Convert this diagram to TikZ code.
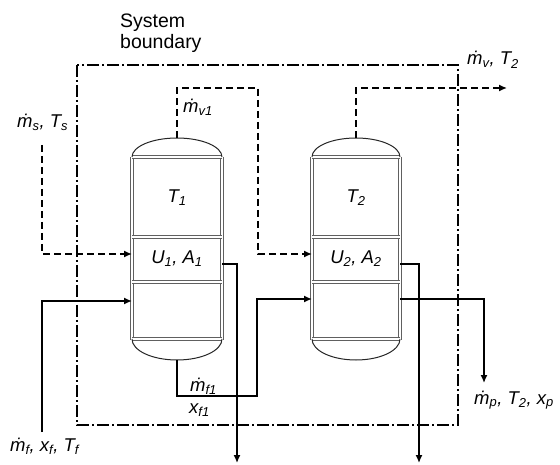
\documentclass[tikz,border=0pt]{standalone}
\usepackage{fontspec}
\setmainfont{Liberation Sans}
\usetikzlibrary{arrows.meta}
\tikzset{
  bnd/.style={line width=1.4pt, dash pattern=on 12pt off 3pt on 2pt off 3pt},
  vap/.style={line width=1.4pt, dash pattern=on 7pt off 4pt},
  liq/.style={line width=1.4pt},
  tip/.style={-{Latex[length=8pt,width=7pt]}},
  wall/.style={draw=gray!75!black, double=white, double distance=1.6pt, line width=0.8pt},
  dome/.style={draw=black!85, line width=1pt},
  lbl/.style={font=\fontsize{18.5}{21}\selectfont\itshape, inner sep=0pt},
  ttl/.style={font=\fontsize{19.5}{22}\selectfont, inner sep=0pt, align=left},
}
\newcommand{\vessel}[2]{% #1 = left x, #2 = right x
  \pgfmathsetmacro{\cx}{(#1+#2)/2}
  \pgfmathsetmacro{\rx}{(#2-#1)/2}
  \draw[wall] (#1,157) -- (#1,340);
  \draw[wall] (#2,157) -- (#2,340);
  \foreach \yy in {157,237,282,339} {\draw[wall] (#1,\yy) -- (#2,\yy);}
  \draw[dome] (#1,157) .. controls (#1,146.5) and (\cx-0.552*\rx,138) .. (\cx,138)
     .. controls (\cx+0.552*\rx,138) and (#2,146.5) .. (#2,157);
  \draw[dome] (#1,339) .. controls (#1,350.6) and (\cx-0.552*\rx,360) .. (\cx,360)
     .. controls (\cx+0.552*\rx,360) and (#2,350.6) .. (#2,339);
}
\begin{document}
\begin{tikzpicture}[x=1pt,y=-1pt]
\useasboundingbox (0,0) rectangle (560,465);
\fill[white] (0,0) rectangle (560,465);

% system boundary
\draw[bnd] (77,65) rectangle (458,425);
\node[ttl, anchor=base west] (sb1) at (120,28) {System};
\node[ttl, anchor=base west] (sb2) at (120,49) {boundary};

% vessels
\vessel{132}{222}
\vessel{312}{400}
\node[lbl] (t1) at (177,198) {T\textsubscript{1}};
\node[lbl] (ua1) at (177,259) {U\textsubscript{1}, A\textsubscript{1}};
\node[lbl] (t2) at (356,198) {T\textsubscript{2}};
\node[lbl] (ua2) at (356,259) {U\textsubscript{2}, A\textsubscript{2}};

% connection points
\coordinate (v1top) at (177,138);
\coordinate (v1bot) at (177,360);
\coordinate (v2top) at (356,138);
\coordinate (v1in) at (132,254);
\coordinate (v1feed) at (132,301);
\coordinate (v1cond) at (222,264);
\coordinate (v2in) at (312,254);
\coordinate (v2feed) at (312,299);
\coordinate (v2cond) at (400,264);
\coordinate (v2out) at (400,299);
\coordinate (steam) at (42,145);
\coordinate (feed) at (42,432);
\coordinate (vout) at (507,88);
\coordinate (c1out) at (237,463);
\coordinate (c2out) at (419,463);
\coordinate (pout) at (484,383);

% steam
\draw[vap, tip] (steam) |- (v1in);
% vapour 1 to vessel 2
\draw[vap, tip] (v1top) -- (177,88) -- (258,88) |- (v2in);
% vapour 2 out
\draw[vap, tip] (v2top) |- (vout);
% feed
\draw[liq, tip] (feed) |- (v1feed);
% condensates
\draw[liq, tip] (v1cond) -| (c1out);
\draw[liq, tip] (v2cond) -| (c2out);
% liquid 1 to vessel 2
\draw[liq, tip] (v1bot) |- (257,396) |- (v2feed);
% product
\draw[liq, tip] (v2out) -| (pout);

% labels
\node[lbl, anchor=base west] (ls) at (17,128) {\.{m}\textsubscript{s}, T\textsubscript{s}};
\node[lbl, anchor=base west] (lv1) at (183,113) {\.{m}\textsubscript{v1}};
\node[lbl, anchor=base west] (lv) at (467,65) {\.{m}\textsubscript{v}, T\textsubscript{2}};
\node[lbl, anchor=base west] (lf1) at (190,391) {\.{m}\textsubscript{f1}};
\node[lbl, anchor=base west] (lxf1) at (189,413) {x\textsubscript{f1}};
\node[lbl, anchor=base west] (lf) at (10,451) {\.{m}\textsubscript{f}, x\textsubscript{f}, T\textsubscript{f}};
\node[lbl, anchor=base west] (lp) at (474,404) {\.{m}\textsubscript{p}, T\textsubscript{2}, x\textsubscript{p}};
\end{tikzpicture}
\end{document}
